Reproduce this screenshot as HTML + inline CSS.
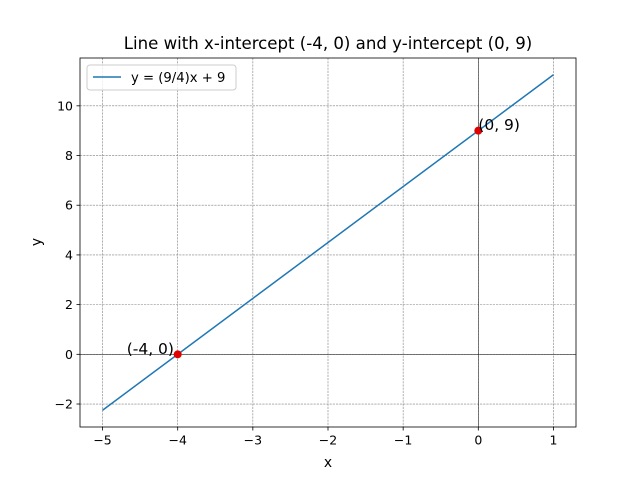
<!DOCTYPE html>
<html><head><meta charset="utf-8"><style>body{margin:0;background:#fff}svg{display:block;font-family:"DejaVu Sans","Liberation Sans",sans-serif}</style></head>
<body>
<svg id="chart" width="640" height="480">
<text x="328" y="49" text-anchor="middle" font-size="16.6">Line with x-intercept (-4, 0) and y-intercept (0, 9)</text>
<g id="grid"></g><g id="axes"></g><g id="marks"></g>
<rect x="80" y="58" width="496" height="369" fill="none" stroke="#000" stroke-width="0.8"/>
<text x="328" y="467" text-anchor="middle" font-size="13.9">x</text>
<text transform="translate(41,242) rotate(-90)" text-anchor="middle" font-size="13.9">y</text>
<g>
<rect x="87" y="65" width="149" height="25" rx="3" fill="#fff" fill-opacity="0.8" stroke="#ccc"/>
<line x1="93" y1="77" x2="121" y2="77" stroke="#1f77b4" stroke-width="1.5"/>
<text x="131" y="82" font-size="13.2">y = (9/4)x + 9</text>
</g>
</svg>
<script>
const xTicks=[-5,-4,-3,-2,-1,0,1];
const yTicks=[-2,0,2,4,6,8,10];
const lineX=[-5,1];
const slope=9/4, intercept=9;
const points=[[-4,0],[0,9]];
const pointLabels=["(-4, 0)","(0, 9)"];
const X0=-5.3,X1=1.3,Y0=-2.925,Y1=11.925;
const L=80,R=576,T=58,B=427;
const sx=v=>L+(v-X0)/(X1-X0)*(R-L);
const sy=v=>B-(v-Y0)/(Y1-Y0)*(B-T);
const NS="http://www.w3.org/2000/svg";
function mk(p,t,a){const e=document.createElementNS(NS,t);for(const k in a)e.setAttribute(k,a[k]);p.appendChild(e);return e;}
const g=document.getElementById('grid'),ax=document.getElementById('axes'),m=document.getElementById('marks');
xTicks.forEach(v=>{const x=sx(v);
const l=mk(g,'line',{x1:x,x2:x,y1:T,y2:B,stroke:'#808080','stroke-width':0.6,'stroke-dasharray':'2.2,1'});


mk(ax,'line',{x1:x,x2:x,y1:B,y2:B+3.5,stroke:'#000','stroke-width':0.8});
const t=mk(ax,'text',{x:x,y:B+17.5,'text-anchor':'middle','font-size':12.5});t.textContent=v<0?'\u2212'+(-v):v;

});
yTicks.forEach(v=>{const y=sy(v);
const l=mk(g,'line',{x1:L,x2:R,y1:y,y2:y,stroke:'#808080','stroke-width':0.6,'stroke-dasharray':'2.2,1'});


mk(ax,'line',{x1:L-3.5,x2:L,y1:y,y2:y,stroke:'#000','stroke-width':0.8});
const t=mk(ax,'text',{x:L-7,y:y+4.5,'text-anchor':'end','font-size':12.5});t.textContent=v<0?'\u2212'+(-v):v;

});
const h=mk(g,'line',{x1:L,x2:R,y1:sy(0),y2:sy(0),stroke:'#000','stroke-width':0.5});


const vz=mk(g,'line',{x1:sx(0),x2:sx(0),y1:T,y2:B,stroke:'#000','stroke-width':0.5});


const ln=mk(m,'line',{x1:sx(lineX[0]),y1:sy(slope*lineX[0]+intercept),x2:sx(lineX[1]),y2:sy(slope*lineX[1]+intercept),stroke:'#1f77b4','stroke-width':1.5});


points.forEach((p,i)=>{
const c=mk(m,'circle',{cx:sx(p[0]),cy:sy(p[1]),r:4,fill:'#e00000'});


const t=mk(m,'text',{x:i==0?sx(p[0])-51:sx(p[0]),y:sy(p[1])-0.5,'font-size':15.5});
t.textContent=pointLabels[i];

});
</script>
</body></html>
